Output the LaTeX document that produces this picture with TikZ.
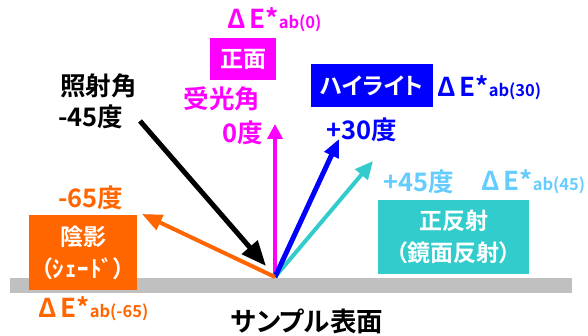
\documentclass[tikz,border=0pt]{standalone}
\usepackage{fontspec}
\setmainfont{Noto Sans CJK JP}[UprightFont=* Bold, RawFeature=+palt]
\usetikzlibrary{arrows.meta}
\definecolor{mag}{HTML}{FF00FF}
\definecolor{blu}{HTML}{0000FF}
\definecolor{cya}{HTML}{33CCCC}
\definecolor{lblu}{HTML}{66CCFF}
\definecolor{ora}{HTML}{FF6600}
\definecolor{gry}{HTML}{C0C0C0}
\newcommand{\dEab}[1]{{\fontsize{26}{26}\selectfont Δ\hspace{4pt}E*}{\fontsize{16.5}{17}\selectfont ab(#1)}}
\begin{document}
\begin{tikzpicture}[x=1pt,y=-1pt,
  lab/.style={inner sep=0pt, font=\fontsize{25.5}{26}\selectfont},
  dlab/.style={inner sep=0pt, anchor=base west},
  boxed/.style={inner sep=0pt, text=white, align=center, font=\fontsize{23}{32}\selectfont},
  ray/.style={line width=4.5pt, -{Triangle[length=20pt,width=17pt]}},
]
\useasboundingbox (0,0) rectangle (588,336);
% sample surface
\fill[gry] (10,278) rectangle (572,293);
\node[lab, text=black, font=\fontsize{26.5}{28}\selectfont] (surf) at (307,321) {サンプル表面};
% coordinates of rays
\coordinate (O) at (275,277);
\coordinate (inS) at (140,121);
\coordinate (inT) at (266,266);
\coordinate (r0) at (275,124);
\coordinate (r30) at (339,139);
\coordinate (r45) at (373,161);
\coordinate (rm65) at (142,214);
% rays
\draw[ray, black, line width=5pt, -{Triangle[length=25pt,width=20pt]}] (inS) -- (inT);
\draw[ray, mag, line width=4pt, -{Triangle[length=15pt,width=15pt]}] (O) -- (r0);
\draw[ray, cya, line width=4pt, -{Triangle[length=18pt,width=16pt]}] (O) -- (r45);
\draw[ray, blu, line width=5pt, -{Triangle[length=18pt,width=15pt]}] (O) -- (r30);
\draw[ray, ora, line width=4pt, -{Triangle[length=20pt,width=16pt]}] (O) -- (rm65);
% boxes
\node[boxed, fill=mag, minimum width=66pt, minimum height=42pt] (front) at (243,59.5) {正面};
\node[boxed, fill=blu, minimum width=122pt, minimum height=43pt] (hl) at (372,85.5) {ハイライト};
\node[boxed, fill=cya, minimum width=151pt, minimum height=74pt] (spec) at (453.5,237) {正反射\\（鏡面反射）};
\node[boxed, fill=ora, minimum width=108pt, minimum height=75pt] (shade) at (83,252.5) {陰影\\（ｼ\hspace{1pt}ｪ\hspace{1pt}ｰ\hspace{1pt}ﾄﾞ）};
% labels
\node[dlab, text=mag] (dE0) at (227,29) {\dEab{0}};
\node[dlab, text=blu] (dE30) at (437,97) {\dEab{30}};
\node[dlab, text=lblu] (dE45) at (481,191) {\dEab{45}};
\node[dlab, text=ora] (dEm65) at (38,317) {\dEab{-65}};
\node[lab, text=black, anchor=west] (inc1) at (60,86) {照射角};
\node[lab, text=black, anchor=west] (inc2) at (58,117) {-45度};
\node[lab, text=mag] (rc1) at (222,99) {受光角};
\node[lab, text=mag, anchor=east] (rc2) at (263,133) {0度};
\node[lab, text=blu, anchor=west] (a30) at (326,130) {+30度};
\node[lab, text=lblu, anchor=west] (a45) at (383,182) {+45度};
\node[lab, text=ora, anchor=west] (am65) at (58,198) {-65度};
\end{tikzpicture}
\end{document}
